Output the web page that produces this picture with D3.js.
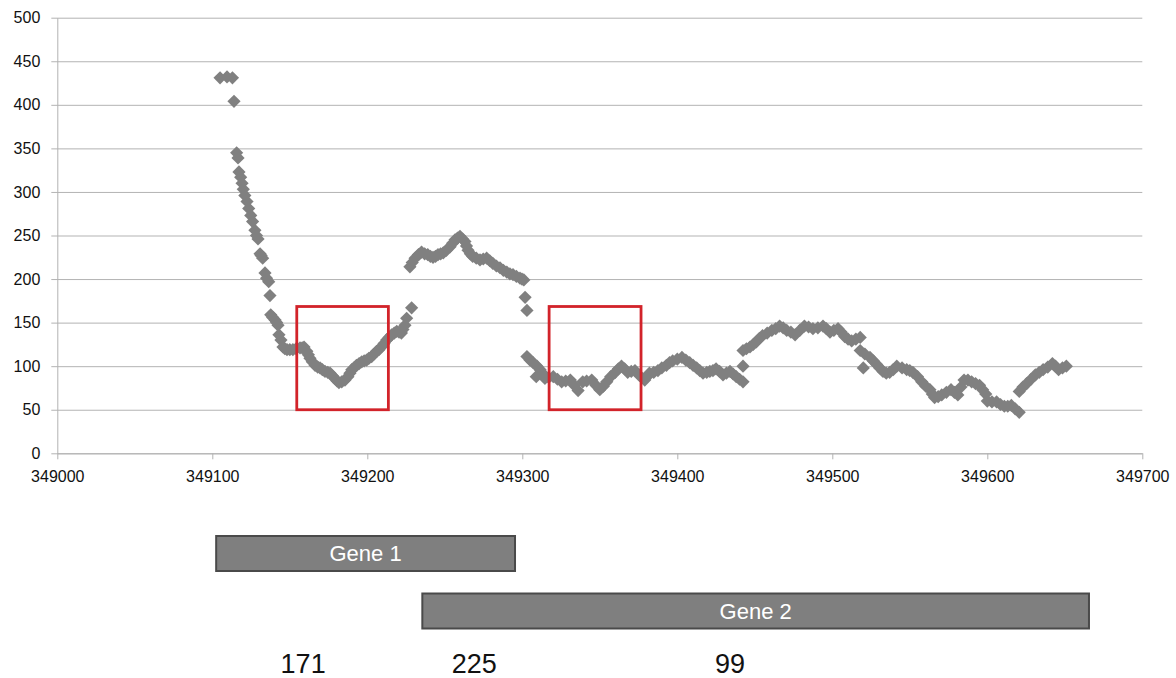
<!DOCTYPE html>
<html>
<head>
<meta charset="utf-8">
<script src="https://cdn.jsdelivr.net/npm/d3@7"></script>
<style>
  html, body { margin: 0; padding: 0; background: #fff; }
  svg { display: block; font-family: "Liberation Sans", Arial, sans-serif; }
</style>
</head>
<body>
<svg id="chart" width="1176" height="678"></svg>
<script>
// Read-depth profile along the locus (position in bp, coverage)
const positions = [
  349105, 349109.5, 349113, 349114, 349115.7, 349116.6, 349117.2, 349118.3, 349119.2, 349120,
  349121, 349122.4, 349123.5, 349124.8, 349126, 349127.5, 349128.5, 349129.5, 349130.8, 349131.5,
  349132.5, 349134, 349135, 349136.4, 349137.2, 349137.7, 349139, 349140.5, 349141.5, 349142.4,
  349143, 349144.3, 349145.6, 349146.8, 349148.2, 349150, 349152, 349154, 349156.6, 349158,
  349159.2, 349161, 349162, 349163, 349164.5, 349166.3, 349168, 349169.5, 349171, 349172.7,
  349174.5, 349176, 349177.5, 349179, 349180.5, 349181.7, 349183.5, 349185.6, 349187.5, 349188.8,
  349190, 349191.5, 349193, 349194.7, 349196.4, 349198, 349199.6, 349201, 349202.8, 349204.4,
  349206, 349207.5, 349209, 349210.8, 349212.5, 349214, 349215.7, 349217.4, 349219, 349220.5,
  349222, 349223, 349224.3, 349225.4, 349228.6,
  349227.5, 349229, 349230.8, 349233, 349235, 349237, 349239, 349240.7, 349242.4, 349244,
  349245.6, 349247.3, 349249, 349251, 349253.4, 349255, 349256.6, 349258.2, 349259.8, 349261.4,
  349263, 349264, 349265, 349266.5, 349268, 349270.3, 349272.7, 349274.8, 349277, 349279,
  349281, 349283.3, 349285.6, 349287.8, 349290, 349292, 349294, 349296.2, 349298.5, 349299.8,
  349301, 349301.8, 349303,
  349303, 349305, 349307, 349309, 349309.5, 349311.5, 349313, 349314.6, 349317, 349320,
  349322.7, 349325.4, 349328, 349331, 349333.5, 349336, 349339, 349341.5, 349344.8, 349347.5,
  349350, 349352.3, 349354.5, 349357, 349360, 349362, 349364, 349366, 349368, 349370.3,
  349372.7, 349375.7, 349379, 349380.5, 349382, 349384.8, 349387.5, 349390, 349393, 349395,
  349397, 349400, 349403, 349405.5, 349408, 349410.2, 349412.5, 349414.5, 349416.6, 349419,
  349421, 349423, 349425, 349427.3, 349429.5, 349431.7, 349434, 349436, 349438, 349440.2,
  349442.4, 349442.4, 349442.4, 349444.6, 349446.9, 349449, 349451, 349453, 349455, 349458,
  349461, 349463.5, 349466, 349468.3, 349470.6, 349473.3, 349476, 349479, 349482, 349484.7,
  349487.5, 349490.7, 349494, 349496.2, 349498.5, 349501, 349503.7, 349505.8, 349508, 349510.2,
  349512.5, 349515.2, 349518, 349518, 349520, 349521, 349524.3, 349526.5, 349528.6, 349530.6,
  349532.7, 349534.8, 349537, 349539.3, 349541.6, 349545, 349548, 349550, 349552, 349555,
  349557.7, 349560.3, 349563, 349564.5, 349566, 349568.3, 349570.6, 349573.6, 349576.6, 349578.8,
  349581, 349583, 349585, 349587.5, 349589.9, 349592.4, 349595, 349597, 349599, 349600,
  349603, 349606, 349608.5, 349611, 349613.2, 349615.5, 349618, 349620.6, 349620.6, 349623,
  349625.4, 349628.2, 349631, 349633.5, 349636, 349639, 349642, 349644, 349646, 349648.5,
  349651
];
const coverage = [
  431, 432, 431, 404, 345, 339, 323, 317, 310, 303,
  296, 289, 281, 273, 266, 256, 250, 246, 229, 227,
  224, 207, 201, 197, 181, 159, 156, 153, 150, 147,
  136, 130, 122, 120, 119, 119, 119, 120, 121, 121,
  122, 117, 113, 109, 105, 101, 99, 98, 96, 94,
  93, 92, 89, 86, 83, 81, 82, 84, 88, 92,
  96, 98, 101, 103, 105, 106, 107, 109, 111, 114,
  117, 119, 122, 126, 130, 133, 136, 138, 140, 139,
  138, 142, 147, 155, 167,
  214, 219, 224, 228, 231, 229, 228, 226, 225, 226,
  228, 229, 230, 233, 237, 241, 245, 247, 249, 246,
  243, 238, 233, 229, 226, 224, 222, 223, 224, 221,
  218, 215, 213, 210, 208, 206, 205, 203, 201, 200,
  199, 179, 164,
  111, 107, 104, 88, 100, 96, 92, 86, 87, 88,
  85, 82, 83, 84, 78, 72, 82, 83, 84, 78,
  73, 77, 82, 88, 93, 97, 100, 97, 93, 94,
  95, 89, 84, 88, 92, 93, 95, 98, 101, 104,
  106, 108, 110, 107, 104, 101, 98, 95, 92, 93,
  94, 95, 97, 94, 90, 92, 94, 91, 88, 85,
  82, 100, 118, 120, 122, 125, 128, 132, 135, 138,
  141, 143, 146, 144, 141, 139, 136, 141, 146, 145,
  143, 144, 146, 143, 139, 141, 143, 139, 134, 131,
  129, 131, 133, 118, 98, 114, 110, 106, 102, 98,
  94, 92, 93, 96, 100, 98, 96, 95, 93, 88,
  82, 77, 73, 68, 64, 65, 67, 70, 73, 70,
  67, 76, 84, 84, 82, 80, 78, 73, 68, 60,
  59, 59, 56, 54, 54, 55, 51, 47, 71, 76,
  80, 85, 90, 93, 96, 99, 103, 100, 96, 98,
  100
];

// Axis ticks
const xTicks = [349000, 349100, 349200, 349300, 349400, 349500, 349600, 349700];
const yTicks = [0, 50, 100, 150, 200, 250, 300, 350, 400, 450, 500];

// Highlighted windows (bp range, coverage range)
const boxStarts = [349154.5, 349317.3];
const boxEnds = [349213.6, 349376.6];
const boxLow = [50, 50];
const boxHigh = [168.5, 168.5];

// Gene annotation track
const geneNames = ["Gene 1", "Gene 2"];
const geneStarts = [349102.5, 349235.5];
const geneEnds = [349295.3, 349665.6];

// Counts shown below the gene track
const countLabels = ["171", "225", "99"];
const countPositions = [349158.6, 349269, 349434];

const svg = d3.select("#chart");

const x = d3.scaleLinear().domain([349000, 349700]).range([57.3, 1142.3]);
const y = d3.scaleLinear().domain([0, 500]).range([453.3, 17.7]);

const gridColor = "#b3b3b3";

// Horizontal gridlines with outward tick stubs
const yAxis = d3.axisLeft(y).tickValues(yTicks).tickSize(-(x.range()[1] - x.range()[0])).tickSizeOuter(0);
const gy = svg.append("g").attr("transform", `translate(${x.range()[0]},0)`).call(yAxis);
gy.select(".domain").attr("stroke", gridColor);
gy.selectAll(".tick line").attr("stroke", gridColor).attr("x1", -6);
gy.selectAll(".tick text").attr("fill", "#111").attr("font-size", 16).attr("x", -17)
  .attr("font-family", "'Liberation Sans', Arial, sans-serif");

// Bottom axis
const xAxis = d3.axisBottom(x).tickValues(xTicks).tickFormat(d3.format("d")).tickSize(6).tickSizeOuter(0).tickPadding(11);
const gx = svg.append("g").attr("transform", `translate(0,${y(0)})`).call(xAxis);
gx.select(".domain").attr("stroke", gridColor);
gx.selectAll(".tick line").attr("stroke", gridColor);
gx.selectAll(".tick text").attr("fill", "#111").attr("font-size", 16)
  .attr("font-family", "'Liberation Sans', Arial, sans-serif");

// Coverage points as diamonds
const half = 6.6;
const diamond = `M0,${-half}L${half},0L0,${half}L${-half},0Z`;
svg.append("g")
  .selectAll("path")
  .data(positions.map((p, i) => ({ p, v: coverage[i] })))
  .join("path")
  .attr("d", diamond)
  .attr("transform", d => `translate(${x(d.p)},${y(d.v)})`)
  .attr("fill", "#808080");

// Highlight boxes
svg.append("g")
  .selectAll("rect")
  .data(boxStarts.map((s, i) => ({ s, e: boxEnds[i], lo: boxLow[i], hi: boxHigh[i] })))
  .join("rect")
  .attr("x", d => x(d.s))
  .attr("y", d => y(d.hi))
  .attr("width", d => x(d.e) - x(d.s))
  .attr("height", d => y(d.lo) - y(d.hi))
  .attr("fill", "none")
  .attr("stroke", "#d2232a")
  .attr("stroke-width", 2.8);

// Gene track
const row = d3.scalePoint().domain(geneNames).range([553.5, 611]);
const barH = 35;
const genes = svg.append("g")
  .selectAll("g")
  .data(geneNames.map((n, i) => ({ n, s: geneStarts[i], e: geneEnds[i] })))
  .join("g");
genes.append("rect")
  .attr("x", d => x(d.s))
  .attr("y", d => row(d.n) - barH / 2)
  .attr("width", d => x(d.e) - x(d.s))
  .attr("height", barH)
  .attr("fill", "#7f7f7f")
  .attr("stroke", "#4a4a4a")
  .attr("stroke-width", 2);
genes.append("text")
  .attr("x", d => (x(d.s) + x(d.e)) / 2)
  .attr("y", d => row(d.n))
  .attr("dy", "0.36em")
  .attr("text-anchor", "middle")
  .attr("fill", "#fff")
  .attr("font-size", 22)
  .text(d => d.n);

// Count labels
svg.append("g")
  .selectAll("text")
  .data(countLabels.map((t, i) => ({ t, p: countPositions[i] })))
  .join("text")
  .attr("x", d => x(d.p))
  .attr("y", 673)
  .attr("text-anchor", "middle")
  .attr("fill", "#111")
  .attr("font-size", 27)
  .text(d => d.t);
</script>
</body>
</html>
